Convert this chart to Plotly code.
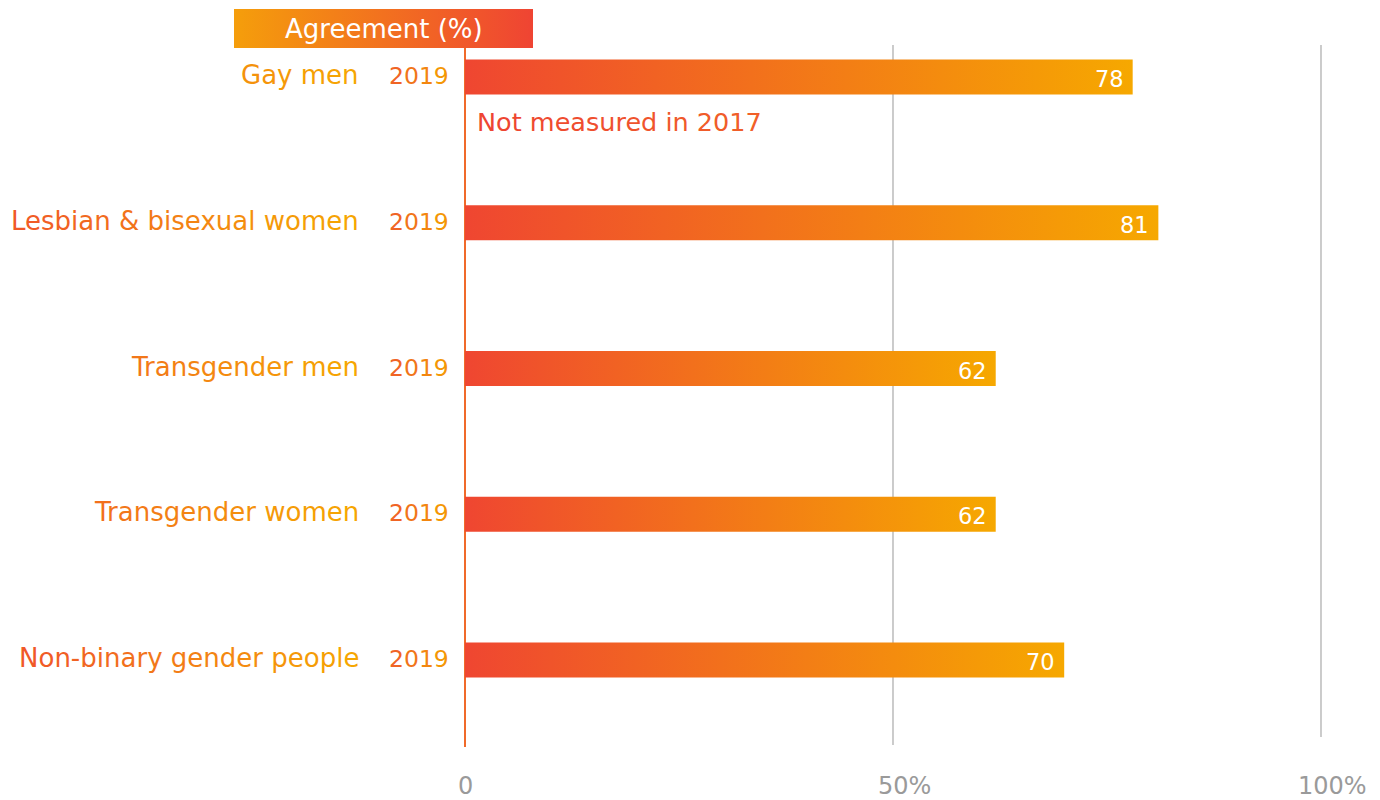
import plotly.graph_objects as go

# Survey data
groups = ["Gay men", "Lesbian & bisexual women", "Transgender men",
          "Transgender women", "Non-binary gender people"]
years = ["2019", "2019", "2019", "2019", "2019"]
agreement = [78, 81, 62, 62, 70]
note_text = "Not measured in 2017"
header_text = "Agreement (%)"
tick_vals = [0, 50, 100]
tick_text = ["0", "50%", "100%"]

RED = (239, 70, 49)
AMBER = (246, 168, 0)
FONT = "DejaVu Sans"

W, H = 1380, 800
PX_PER_PCT = 8.56          # horizontal scale
X0_PX = 465                # pixel column of the 0 value
ROW_PX = 145.75            # spacing between rows
ROW0_PX = 77               # centre of first row

x_range = [-X0_PX / PX_PER_PCT, (W - X0_PX) / PX_PER_PCT]
y_range = [(H - ROW0_PX) / ROW_PX, -ROW0_PX / ROW_PX]


def px_x(px):
    return (px - X0_PX) / PX_PER_PCT


def px_y(px):
    return (px - ROW0_PX) / ROW_PX


def mix(c1, c2, t):
    t = max(0.0, min(1.0, t))
    return "#%02x%02x%02x" % tuple(round(a + (b - a) * t) for a, b in zip(c1, c2))


def gradient_text(text, right_px, start_px, end_px, c1, c2, char_w):
    """Colour each character by its horizontal position along a gradient."""
    n = len(text)
    out = []
    for i, ch in enumerate(text):
        cx = right_px - (n - i - 0.5) * char_w
        t = (cx - start_px) / (end_px - start_px)
        esc = {"&": "&amp;", "<": "&lt;", ">": "&gt;"}.get(ch, ch)
        out.append('<span style="color:%s">%s</span>' % (mix(c1, c2, t), esc))
    return "".join(out)


fig = go.Figure()

# Gradient bars
half = 17.5 / ROW_PX
for i, v in enumerate(agreement):
    fig.add_trace(go.Scatter(
        x=[0, v, v, 0, 0],
        y=[i - half, i - half, i + half, i + half, i - half],
        mode="lines", line=dict(width=0), fill="toself",
        fillgradient=dict(type="horizontal",
                          colorscale=[[0, mix(RED, AMBER, 0)], [1, mix(RED, AMBER, 1)]]),
        hoverinfo="skip", showlegend=False,
    ))

# Header box
hx0, hx1 = px_x(234), px_x(533)
hy0, hy1 = px_y(9), px_y(48)
fig.add_trace(go.Scatter(
    x=[hx0, hx1, hx1, hx0, hx0], y=[hy0, hy0, hy1, hy1, hy0],
    mode="lines", line=dict(width=0), fill="toself",
    fillgradient=dict(type="horizontal",
                      colorscale=[[0, "#f59e0b"], [1, "#ef4433"]]),
    hoverinfo="skip", showlegend=False,
))

shapes = []
# Reference lines at 50% and 100%
for xv, bottom in [(50, 745), (100, 737)]:
    shapes.append(dict(type="line", xref="x", yref="y", x0=xv, x1=xv,
                       y0=px_y(bottom), y1=px_y(45),
                       line=dict(color="#a9a9a9", width=1.2), layer="below"))
# Zero axis line
shapes.append(dict(type="line", xref="x", yref="y", x0=0, x1=0,
                   y0=px_y(747), y1=px_y(45),
                   line=dict(color="#f06a2a", width=2), layer="below"))

annotations = []
annotations.append(dict(x=(hx0 + hx1) / 2, y=(hy0 + hy1) / 2, xref="x", yref="y",
                        text=header_text, showarrow=False,
                        font=dict(family=FONT, size=26, color="white")))

for i, (g, yr, v) in enumerate(zip(groups, years, agreement)):
    annotations.append(dict(
        x=px_x(361), y=i - 2 / ROW_PX, xref="x", yref="y", xanchor="right",
        text=gradient_text(g, 360, -60, 360, RED, AMBER, 14.6),
        showarrow=False, font=dict(family=FONT, size=26)))
    annotations.append(dict(
        x=px_x(451), y=i - 1 / ROW_PX, xref="x", yref="y", xanchor="right",
        text=gradient_text(yr, 450, 390, 450, (239, 90, 42), (245, 160, 0), 14.75),
        showarrow=False, font=dict(family=FONT, size=23.5)))
    annotations.append(dict(
        x=v, y=i + 2 / ROW_PX, xref="x", yref="y", xanchor="right", xshift=-7,
        text=str(v), showarrow=False,
        font=dict(family=FONT, size=22.5, color="white")))

annotations.append(dict(
    x=px_x(475), y=px_y(122), xref="x", yref="y", xanchor="left",
    text=gradient_text(note_text, 763, 478, 900, (238, 68, 50), (242, 110, 35), 14.3),
    showarrow=False, font=dict(family=FONT, size=25.5)))

# Axis value labels
for tv, tt in zip(tick_vals, tick_text):
    shift = 0 if tt == "0" else 11
    annotations.append(dict(
        x=tv, y=px_y(786), xref="x", yref="y", xshift=shift,
        text=tt, showarrow=False,
        font=dict(family=FONT, size=24, color="#9a9a9a")))

fig.update_layout(
    width=W, height=H,
    margin=dict(l=0, r=0, t=0, b=0),
    paper_bgcolor="white", plot_bgcolor="white",
    xaxis=dict(range=x_range, showgrid=False, zeroline=False,
               showticklabels=False, fixedrange=True),
    yaxis=dict(range=y_range, showgrid=False,
               zeroline=False, showticklabels=False, fixedrange=True),
    shapes=shapes, annotations=annotations,
)

fig.write_html("out.html")
